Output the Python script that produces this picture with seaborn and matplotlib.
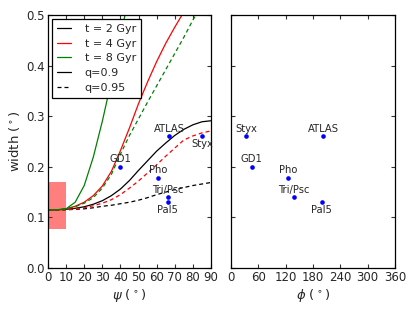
import numpy as np
import pandas as pd
import seaborn as sns
import matplotlib
matplotlib.use("Agg")
import matplotlib.pyplot as plt
from matplotlib.lines import Line2D
from matplotlib.patches import Rectangle

# ---- data ----
psi_a = [0, 5, 10, 15, 20, 25, 30, 35, 40, 45, 50, 55, 60, 65, 70, 75, 80, 85, 90]
w_t2_q09 = [0.115, 0.115, 0.116, 0.118, 0.121, 0.126, 0.133, 0.143, 0.156, 0.173,
            0.193, 0.212, 0.231, 0.247, 0.262, 0.274, 0.283, 0.289, 0.291]
w_t2_q095 = [0.115, 0.115, 0.115, 0.116, 0.117, 0.119, 0.122, 0.124, 0.127, 0.130,
             0.134, 0.139, 0.145, 0.150, 0.155, 0.159, 0.163, 0.166, 0.169]
w_t4_q095 = [0.115, 0.115, 0.115, 0.117, 0.119, 0.123, 0.128, 0.135, 0.145, 0.158,
             0.172, 0.188, 0.204, 0.221, 0.237, 0.253, 0.261, 0.267, 0.271]
psi_b = [0, 5, 10, 15, 20, 25, 30, 35, 40, 45, 50, 55, 60, 65, 70, 75]
w_t4_q09 = [0.115, 0.115, 0.117, 0.122, 0.130, 0.143, 0.162, 0.191, 0.232, 0.277,
            0.325, 0.368, 0.408, 0.444, 0.476, 0.506]
psi_c = [0, 5, 10, 15, 20, 25, 30, 35, 40, 45, 50, 55, 60, 65, 70, 75, 80, 85]
w_t8_q095 = [0.115, 0.115, 0.117, 0.121, 0.128, 0.139, 0.158, 0.185, 0.225, 0.262,
             0.295, 0.328, 0.360, 0.392, 0.424, 0.456, 0.490, 0.520]
psi_d = [0, 5, 10, 15, 20, 25, 30, 35, 40, 45]
w_t8_q09 = [0.115, 0.115, 0.117, 0.130, 0.163, 0.219, 0.290, 0.370, 0.455, 0.545]

streams = ["GD1", "Pho", "Tri/Psc", "Pal5", "ATLAS", "Styx"]
stream_psi = [40, 61, 66, 66, 67, 85]
stream_phi = [45, 125, 138, 199, 202, 34]
stream_width = [0.20, 0.178, 0.14, 0.13, 0.26, 0.26]
label_below_left = ["Pal5", "Styx"]
label_below_right = ["Pal5"]

t_labels = ["t = 2 Gyr", "t = 4 Gyr", "t = 8 Gyr"]
q_labels = ["q=0.9", "q=0.95"]

# ---- build long table ----
rows = []
def add(psis, ws, t, q):
    for p, w in zip(psis, ws):
        rows.append(dict(psi=p, width=w, t=t, q=q, curve=f"{t}|{q}"))
add(psi_a, w_t2_q09, t_labels[0], q_labels[0])
add(psi_a, w_t2_q095, t_labels[0], q_labels[1])
add(psi_b, w_t4_q09, t_labels[1], q_labels[0])
add(psi_a, w_t4_q095, t_labels[1], q_labels[1])
add(psi_d, w_t8_q09, t_labels[2], q_labels[0])
add(psi_c, w_t8_q095, t_labels[2], q_labels[1])
df = pd.DataFrame(rows)
pts = pd.DataFrame(dict(name=streams, psi=stream_psi, phi=stream_phi, width=stream_width))

sns.set_style("ticks")
plt.rcParams['font.family'] = ['DejaVu Sans']
plt.rcParams['mathtext.fontset'] = 'dejavusans'

colors = {t_labels[0]: "k", t_labels[1]: "r", t_labels[2]: "g"}
dash_pat = (3.2, 2.4)
dashes = {q_labels[0]: "", q_labels[1]: dash_pat}

fig = plt.figure(figsize=(4.15, 3.12), dpi=100)
ax1 = fig.add_axes([48/415, 1-268/312, 163/415, 253/312])
ax2 = fig.add_axes([231/415, 1-268/312, 164/415, 253/312])

ax1.add_patch(Rectangle((0, 0.077), 10, 0.093, facecolor="red", alpha=0.5,
                        edgecolor="none", zorder=1))

sns.lineplot(data=df, x="psi", y="width", hue="t", style="q", units="curve",
             estimator=None, palette=colors, dashes=dashes, linewidth=0.9,
             legend=False, ax=ax1, sort=False, zorder=2)

sns.scatterplot(data=pts, x="psi", y="width", color="b", s=11, linewidth=0,
                ax=ax1, zorder=3, legend=False)
sns.scatterplot(data=pts, x="phi", y="width", color="b", s=11, linewidth=0,
                ax=ax2, zorder=3, legend=False)

fs_ann = 7.2
for n, p, ph, w in zip(streams, stream_psi, stream_phi, stream_width):
    if n in label_below_left:
        ax1.annotate(n, (p, w), xytext=(0, -2), textcoords="offset points",
                     ha="center", va="top", fontsize=fs_ann)
    else:
        ax1.annotate(n, (p, w), xytext=(0, 1.8), textcoords="offset points",
                     ha="center", va="bottom", fontsize=fs_ann)
    if n in label_below_right:
        ax2.annotate(n, (ph, w), xytext=(0, -2), textcoords="offset points",
                     ha="center", va="top", fontsize=fs_ann)
    else:
        ax2.annotate(n, (ph, w), xytext=(0, 1.8), textcoords="offset points",
                     ha="center", va="bottom", fontsize=fs_ann)

for ax in (ax1, ax2):
    ax.set_ylim(0, 0.5)
    ax.set_yticks([0.0, 0.1, 0.2, 0.3, 0.4, 0.5])
    ax.tick_params(direction="in", length=3, width=0.8, top=True, right=True,
                   labelsize=8.5, pad=2.5, color="#333333")
    for s in ax.spines.values():
        s.set_linewidth(0.9)
        s.set_color("black")

ax1.set_xlim(0, 90)
ax1.set_xticks(range(0, 91, 10))
ax1.set_yticklabels(["0.0", "0.1", "0.2", "0.3", "0.4", "0.5"])
ax1.set_xlabel(r"$\psi$ ($^\circ$)", fontsize=9.5, labelpad=2)
ax1.set_ylabel(r"width ($^\circ$)", fontsize=9.5, labelpad=3)

ax2.set_xlim(0, 360)
ax2.set_xticks(range(0, 361, 60))
ax2.set_yticklabels([])
ax2.set_ylabel("")
ax2.set_xlabel(r"$\phi$ ($^\circ$)", fontsize=9.5, labelpad=2)

handles = [Line2D([], [], color="k", lw=0.9),
           Line2D([], [], color="r", lw=0.9),
           Line2D([], [], color="g", lw=0.9),
           Line2D([], [], color="k", lw=0.9),
           Line2D([], [], color="k", lw=0.9, dashes=dash_pat)]
leg = ax1.legend(handles, t_labels + q_labels, loc="upper left", fontsize=8,
                 frameon=True, fancybox=False, framealpha=1, edgecolor="black",
                 handlelength=1.3, handletextpad=1.2, labelspacing=0.42,
                 borderpad=0.45, borderaxespad=0.35)
leg.get_frame().set_linewidth(0.9)

fig.savefig("out.png", dpi=100)
